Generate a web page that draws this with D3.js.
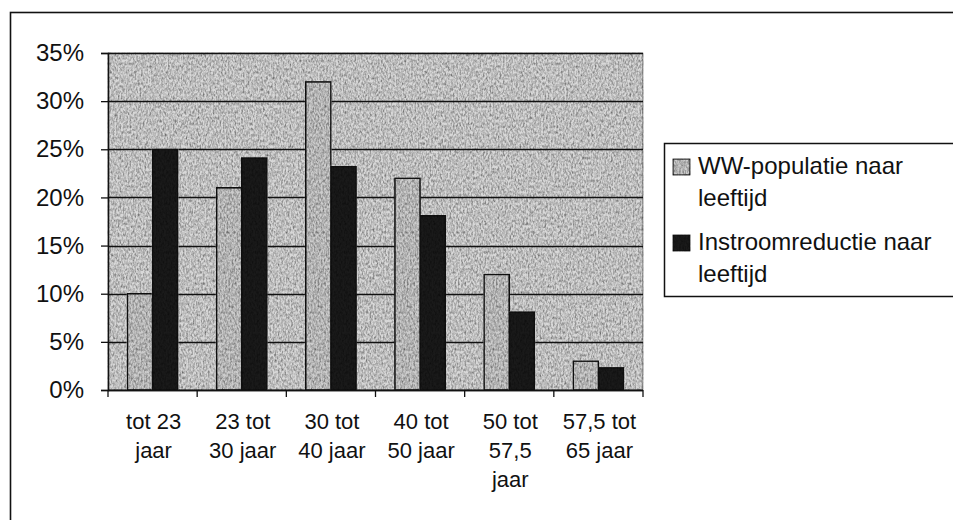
<!DOCTYPE html>
<html lang="nl">
<head>
    <meta charset="UTF-8">
    <title>WW-populatie en instroomreductie naar leeftijd</title>
    <style>
        body {
            margin: 0;
            background: #ffffff;
        }
        text {
            font-family: Arial, "Liberation Sans", sans-serif;
            fill: #111;
        }
    </style>
</head>
<body>
    <script src="https://d3js.org/d3.v7.min.js"></script>
    <script type="text/javascript">
        // Chart data
        var categories = [
            ["tot 23", "jaar"],
            ["23 tot", "30 jaar"],
            ["30 tot", "40 jaar"],
            ["40 tot", "50 jaar"],
            ["50 tot", "57,5", "jaar"],
            ["57,5 tot", "65 jaar"]
        ];
        var seriesNames = [
            ["WW-populatie naar", "leeftijd"],
            ["Instroomreductie naar", "leeftijd"]
        ];
        var wwPopulatie = [0.10, 0.21, 0.32, 0.22, 0.12, 0.03];
        var instroomReductie = [0.25, 0.241, 0.232, 0.181, 0.081, 0.023];
        var yTicks = [0, 0.05, 0.10, 0.15, 0.20, 0.25, 0.30, 0.35];

        var width = 953;
        var height = 520;

        // plot area borders (note: "top" is a reserved window property)
        var plotLeft = 108, plotRight = 643, plotTop = 53, plotBottom = 390;

        var svg = d3.select("body")
                    .append("svg")
                    .attr("width", width)
                    .attr("height", height);

        // grainy scan texture filter
        var defs = svg.append("defs");
        var grain = defs.append("filter")
                        .attr("id", "grain")
                        .attr("color-interpolation-filters", "sRGB");
        grain.append("feTurbulence")
             .attr("type", "fractalNoise")
             .attr("baseFrequency", "0.6 0.35")
             .attr("numOctaves", 2)
             .attr("seed", 7)
             .attr("result", "noise");
        grain.append("feColorMatrix")
             .attr("in", "noise")
             .attr("type", "matrix")
             .attr("values", "0.6 0.6 0 0 0.27  0.6 0.6 0 0 0.27  0.6 0.6 0 0 0.27  0 0 0 0 1")
             .attr("result", "grey");
        grain.append("feBlend")
             .attr("in", "SourceGraphic")
             .attr("in2", "grey")
             .attr("mode", "multiply")
             .attr("result", "mixed");
        grain.append("feComposite")
             .attr("in", "mixed")
             .attr("in2", "SourceGraphic")
             .attr("operator", "in");

        // outer frame (runs off the page on the right and bottom)
        svg.append("rect")
           .attr("x", 10.5).attr("y", 12.5)
           .attr("width", 960).attr("height", 520)
           .attr("fill", "none")
           .attr("stroke", "#111")
           .attr("stroke-width", 1.6);

        // scales
        var x0 = d3.scaleBand()
                   .domain(d3.range(categories.length))
                   .range([plotLeft, plotRight])
                   .paddingInner(0)
                   .paddingOuter(0);

        var x1 = d3.scaleBand()
                   .domain([0, 1])
                   .range([0, x0.bandwidth()])
                   .paddingInner(0)
                   .paddingOuter(0.77);

        var y = d3.scaleLinear()
                  .domain([0, 0.35])
                  .range([plotBottom, plotTop]);

        // plot background
        svg.append("rect")
           .attr("x", plotLeft).attr("y", plotTop)
           .attr("width", plotRight - plotLeft).attr("height", plotBottom - plotTop)
           .attr("fill", "#d8d8d8")
           .attr("stroke", "#666")
           .attr("filter", "url(#grain)");

        // gridlines
        svg.append("g")
           .selectAll("line")
           .data(yTicks)
           .enter()
           .append("line")
           .attr("x1", plotLeft).attr("x2", plotRight)
           .attr("y1", function(d) { return Math.round(y(d)) + 0.5; })
           .attr("y2", function(d) { return Math.round(y(d)) + 0.5; })
           .attr("stroke", "#111")
           .attr("stroke-width", 1.3);

        // bars
        var rows = categories.map(function(c, i) {
            return [wwPopulatie[i], instroomReductie[i]];
        });
        var barFill = ["#cccccc", "#1a1a1a"];

        var groups = svg.selectAll("g.cat")
                        .data(rows)
                        .enter()
                        .append("g")
                        .attr("class", "cat")
                        .attr("transform", function(d, i) { return "translate(" + x0(i) + ",0)"; });

        groups.selectAll("rect")
              .data(function(d) { return d; })
              .enter()
              .append("rect")
              .attr("x", function(d, j) { return x1(j); })
              .attr("y", function(d) { return y(d); })
              .attr("width", x1.bandwidth())
              .attr("height", function(d) { return y(0) - y(d); })
              .attr("fill", function(d, j) { return barFill[j]; })
              .attr("stroke", "#111")
              .attr("stroke-width", 1.6)
              .attr("filter", "url(#grain)");

        // y axis
        var yAxis = d3.axisLeft(y)
                      .tickValues(yTicks)
                      .tickSize(7)
                      .tickPadding(17)
                      .tickFormat(d3.format(".0%"));

        var yg = svg.append("g")
                    .attr("transform", "translate(" + plotLeft + ",0)")
                    .call(yAxis);
        yg.selectAll("text").style("font-size", "24px");
        yg.selectAll("line").attr("stroke", "#111").attr("stroke-width", 1.3);
        yg.select(".domain").attr("stroke", "#111").attr("stroke-width", 1.5);

        // x axis: ticks on the band edges
        var edges = d3.range(categories.length + 1).map(function(i) {
            return i < categories.length ? x0(i) : x0(i - 1) + x0.bandwidth();
        });
        svg.append("line")
           .attr("x1", plotLeft).attr("x2", plotRight)
           .attr("y1", plotBottom + 0.5).attr("y2", plotBottom + 0.5)
           .attr("stroke", "#111").attr("stroke-width", 1.5);
        svg.append("g")
           .selectAll("line")
           .data(edges)
           .enter()
           .append("line")
           .attr("x1", function(d) { return d; })
           .attr("x2", function(d) { return d; })
           .attr("y1", plotBottom).attr("y2", plotBottom + 7)
           .attr("stroke", "#111").attr("stroke-width", 1.3);

        // category labels, one line per tspan
        var xl = svg.append("g")
                    .selectAll("text")
                    .data(categories)
                    .enter()
                    .append("text")
                    .attr("text-anchor", "middle")
                    .style("font-size", "22px")
                    .attr("transform", function(d, i) {
                        return "translate(" + (x0(i) + x0.bandwidth() / 2 + 1) + ",429)";
                    });
        xl.selectAll("tspan")
          .data(function(d) { return d; })
          .enter()
          .append("tspan")
          .attr("x", 0)
          .attr("y", function(d, k) { return k * 29; })
          .text(function(d) { return d; });

        // legend
        svg.append("rect")
           .attr("x", 664.5).attr("y", 143.5)
           .attr("width", 300).attr("height", 153)
           .attr("fill", "#fff")
           .attr("stroke", "#111")
           .attr("stroke-width", 1.5);

        var legend = svg.selectAll("g.legend")
                        .data(seriesNames)
                        .enter()
                        .append("g")
                        .attr("class", "legend")
                        .attr("transform", function(d, i) { return "translate(673," + (159 + i * 76) + ")"; });

        legend.append("rect")
              .attr("width", 17).attr("height", 16)
              .attr("fill", function(d, i) { return barFill[i]; })
              .attr("stroke", "#111")
              .attr("stroke-width", 1.2)
              .attr("filter", "url(#grain)");

        legend.append("text")
              .style("font-size", "24px")
              .selectAll("tspan")
              .data(function(d) { return d; })
              .enter()
              .append("tspan")
              .attr("x", 25)
              .attr("y", function(d, k) { return 15 + k * 32; })
              .text(function(d) { return d; });
    </script>
</body>
</html>
